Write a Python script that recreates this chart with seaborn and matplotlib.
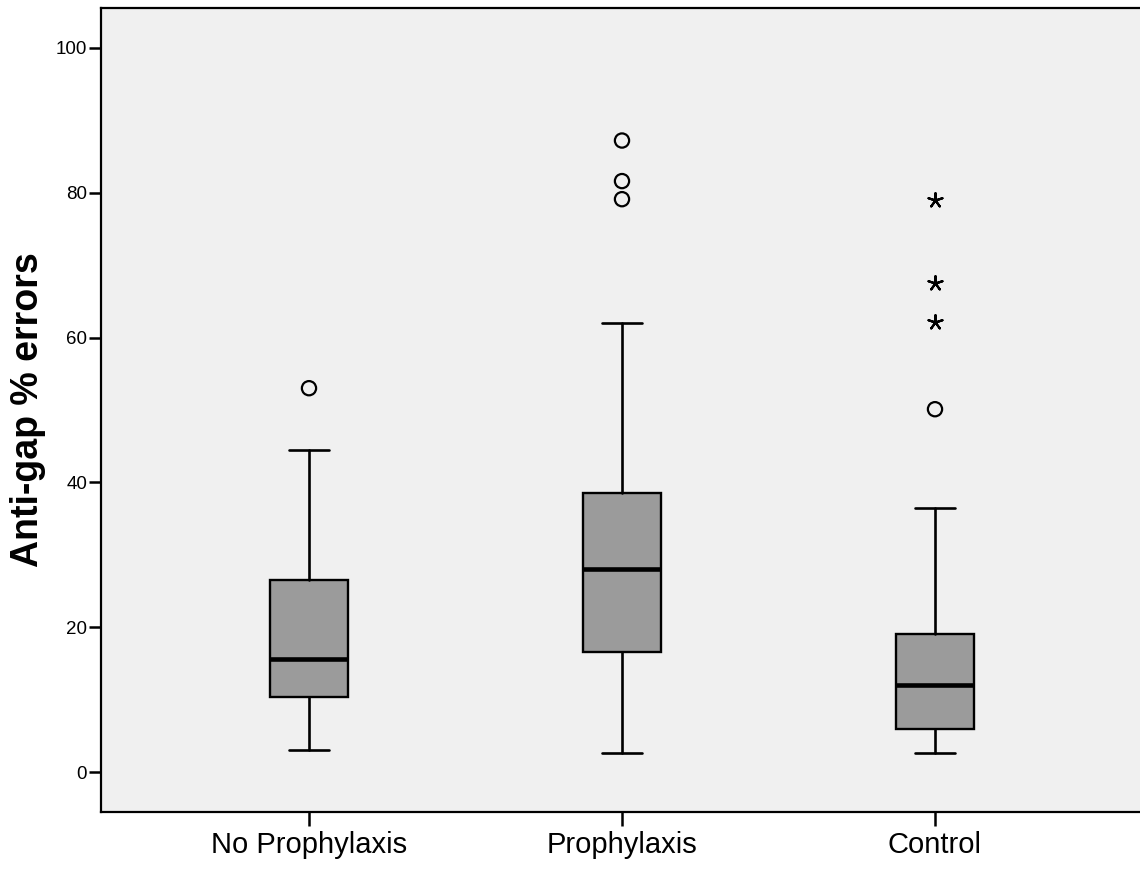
import matplotlib
matplotlib.use("Agg")
import matplotlib.pyplot as plt
import seaborn as sns
import pandas as pd

# ---- data ----
groups = ["No Prophylaxis", "Prophylaxis", "Control"]
whisker_low = [3.0, 2.6, 2.6]
q1 = [10.4, 16.6, 5.9]
median = [15.6, 28.0, 12.0]
q3 = [26.5, 38.5, 19.1]
whisker_high = [44.5, 62.0, 36.5]

outlier_group = ["No Prophylaxis", "Prophylaxis", "Prophylaxis", "Prophylaxis", "Control"]
outlier_value = [53.0, 87.2, 81.6, 79.1, 50.1]
extreme_group = ["Control", "Control", "Control"]
extreme_value = [79.0, 67.5, 62.2]

y_ticks = [0, 20, 40, 60, 80, 100]
y_label = "Anti-gap % errors"

# ---- style ----
sns.set_theme(style="ticks")
plt.rcParams["font.family"] = ["Liberation Sans", "DejaVu Sans"]

fig = plt.figure(figsize=(11.4, 8.69), dpi=100)
ax = fig.add_axes([101 / 1140, 1 - 812 / 869, (1146 - 101) / 1140, (812 - 8) / 869])
ax.set_facecolor("#f0f0f0")

pos = {g: i for i, g in enumerate(groups)}

stats = []
for i, g in enumerate(groups):
    stats.append(dict(label=g, whislo=whisker_low[i], q1=q1[i], med=median[i],
                      q3=q3[i], whishi=whisker_high[i], fliers=[]))

ax.bxp(stats, positions=list(range(len(groups))), widths=0.25, patch_artist=True,
       showfliers=False, capwidths=0.125,
       boxprops=dict(facecolor="#9b9b9b", edgecolor="black", linewidth=1.7),
       medianprops=dict(color="black", linewidth=3.3, solid_capstyle="butt"),
       whiskerprops=dict(color="black", linewidth=1.9),
       capprops=dict(color="black", linewidth=1.9))

df_out = pd.DataFrame({"x": [pos[g] for g in outlier_group], "y": outlier_value})
df_ext = pd.DataFrame({"x": [pos[g] for g in extreme_group], "y": extreme_value})

sns.scatterplot(data=df_out, x="x", y="y", ax=ax, marker="o", s=105,
                facecolors="none", edgecolors="black", linewidths=1.6, zorder=5)
sns.scatterplot(data=df_ext, x="x", y="y", ax=ax, marker=(5, 2, 0), s=110,
                color="black", linewidths=1.6, zorder=5)

ax.set_xlim(-0.6645, (1146 - 309) / 313)
ax.set_ylim(-5.52, 105.5)
ax.set_xticks(range(len(groups)))
ax.set_xticklabels(groups, fontsize=21, color="black")
ax.set_yticks(y_ticks)
ax.set_yticklabels([str(t) for t in y_ticks], fontsize=13.5, color="black")
ax.set_xlabel("")
ax.set_ylabel(y_label, fontsize=27, fontweight="bold", labelpad=7, color="black")

for side in ["left", "bottom", "top", "right"]:
    ax.spines[side].set_visible(True)
    ax.spines[side].set_linewidth(1.6)
    ax.spines[side].set_color("black")

ax.tick_params(axis="y", length=9, width=1.8, color="black", pad=1, labelcolor="black")
ax.tick_params(axis="x", length=10, width=1.8, color="black", pad=4, labelcolor="black")
ax.grid(False)

fig.savefig("out.png", dpi=100, facecolor="white")
